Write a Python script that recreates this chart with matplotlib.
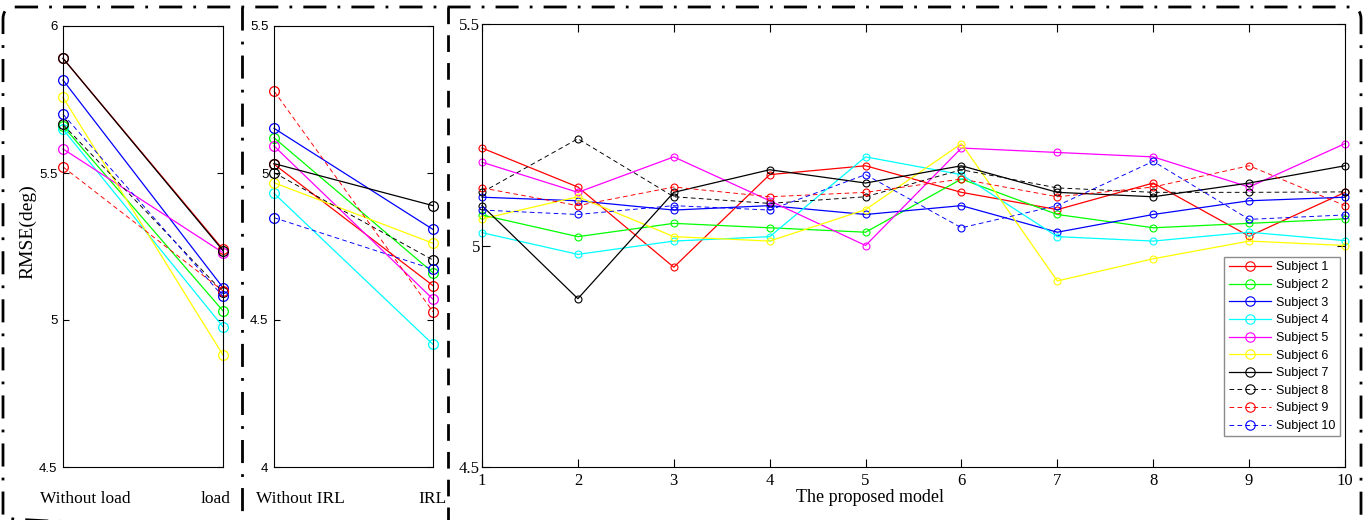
import matplotlib
matplotlib.use("Agg")
import matplotlib.pyplot as plt
from matplotlib.patches import FancyBboxPatch
from matplotlib.lines import Line2D
from matplotlib.transforms import Affine2D

W, H = 1369, 520

subjects = [f"Subject {i}" for i in range(1, 11)]
colors = ['#ff0000', '#00ff00', '#0000ff', '#00ffff', '#ff00ff', '#ffff00',
          '#000000', '#000000', '#ff0000', '#0000ff']
dashed = [False] * 7 + [True] * 3

# Panel 1: Without load vs load
load_labels = ["Without load", "load"]
without_load = [5.89, 5.66, 5.816, 5.649, 5.582, 5.757, 5.89, 5.665, 5.521, 5.70]
with_load = [5.24, 5.031, 5.11, 4.977, 5.229, 4.881, 5.236, 5.095, 5.099, 5.08]

# Panel 2: Without IRL vs IRL
irl_labels = ["Without IRL", "IRL"]
without_irl = [5.03, 5.12, 5.152, 4.931, 5.092, 4.967, 5.032, 5.001, 5.279, 4.848]
with_irl = [4.617, 4.661, 4.808, 4.417, 4.571, 4.761, 4.889, 4.704, 4.528, 4.673]

# Panel 3: proposed model, runs 1..10
runs = list(range(1, 11))
s1 = [5.22, 5.132, 4.951, 5.16, 5.18, 5.12, 5.081, 5.141, 5.021, 5.12]
s2 = [5.069, 5.02, 5.05, 5.04, 5.03, 5.15, 5.07, 5.04, 5.05, 5.06]
s3 = [5.109, 5.101, 5.08, 5.09, 5.07, 5.09, 5.03, 5.07, 5.101, 5.109]
s4 = [5.029, 4.98, 5.01, 5.02, 5.2, 5.16, 5.02, 5.01, 5.03, 5.011]
s5 = [5.188, 5.12, 5.2, 5.101, 5.0, 5.22, 5.21, 5.2, 5.132, 5.23]
s6 = [5.06, 5.11, 5.02, 5.01, 5.081, 5.23, 4.92, 4.97, 5.01, 5.0]
s7 = [5.09, 4.88, 5.12, 5.171, 5.141, 5.18, 5.12, 5.11, 5.141, 5.18]
s8 = [5.12, 5.241, 5.11, 5.095, 5.11, 5.171, 5.13, 5.12, 5.12, 5.121]
s9 = [5.13, 5.09, 5.132, 5.11, 5.12, 5.15, 5.11, 5.132, 5.18, 5.09]
s10 = [5.08, 5.07, 5.09, 5.08, 5.16, 5.04, 5.09, 5.19, 5.059, 5.069]
model_series = [s1, s2, s3, s4, s5, s6, s7, s8, s9, s10]

SERIF = "Liberation Serif"
SANS = "Liberation Sans"

fig = plt.figure(figsize=(W / 100, H / 100), dpi=100)


def add_axes_px(x0, y0, x1, y1):
    return fig.add_axes([x0 / W, 1 - y1 / H, (x1 - x0) / W, (y1 - y0) / H])


def style_axes(ax, family, size, pad):
    for sp in ax.spines.values():
        sp.set_linewidth(0.8)
    ax.tick_params(direction='in', length=4, width=0.8, top=True, right=True,
                   pad=pad, labelsize=size)
    for lab in ax.get_xticklabels() + ax.get_yticklabels():
        lab.set_fontfamily(family)


def dash_kw(i, lw):
    if dashed[i]:
        return dict(linestyle=(0, (5, 3.5)), lw=lw * 0.75)
    return dict(linestyle='-', lw=lw)


def pair_panel(ax, a, b, ymin, ymax, ticks):
    for i in range(10):
        ax.plot([1, 2], [a[i], b[i]], color=colors[i], marker='o', ms=7,
                mfc='none', mew=0.9, clip_on=False, **dash_kw(i, 0.9))
    ax.set_xlim(1, 2)
    ax.set_ylim(ymin, ymax)
    ax.set_yticks(ticks)
    ax.set_yticklabels([f"{t:g}" for t in ticks])
    ax.set_xticks([])
    style_axes(ax, SANS, 9.5, 4)


ax1 = add_axes_px(63, 26, 223, 467)
pair_panel(ax1, without_load, with_load, 4.5, 6, [4.5, 5, 5.5, 6])
ax2 = add_axes_px(274, 26, 433, 467)
pair_panel(ax2, without_irl, with_irl, 4, 5.5, [4, 4.5, 5, 5.5])

fig.text(85 / W, 1 - 499 / H, load_labels[0], ha='center', va='center',
         family=SERIF, fontsize=12.5)
fig.text(216 / W, 1 - 499 / H, load_labels[1], ha='center', va='center',
         family=SERIF, fontsize=12.5)
fig.text(300 / W, 1 - 499 / H, irl_labels[0], ha='center', va='center',
         family=SERIF, fontsize=12.5)
fig.text(432 / W, 1 - 499 / H, irl_labels[1], ha='center', va='center',
         family=SERIF, fontsize=12.5)
fig.text(28 / W, 1 - 232 / H, "RMSE(deg)", rotation=90, ha='center',
         va='center', family=SERIF, fontsize=14)

ax3 = add_axes_px(482, 24, 1345, 467)
handles = []
for i in range(10):
    h, = ax3.plot(runs, model_series[i], color=colors[i], marker='o', ms=5,
                  mfc='none', mew=0.8, clip_on=False, label=subjects[i],
                  **dash_kw(i, 0.9))
    handles.append(h)
ax3.set_xlim(1, 10)
ax3.set_ylim(4.5, 5.5)
ax3.set_xticks(runs)
ax3.set_yticks([4.5, 5, 5.5])
ax3.set_yticklabels(["4.5", "5", "5.5"])
style_axes(ax3, SERIF, 12, 1.5)
ax3.tick_params(axis='x', pad=4, length=6)
ax3.tick_params(axis='y', length=6)
fig.text(870 / W, 1 - 497 / H, "The proposed model", ha='center', va='center',
         family=SERIF, fontsize=13)

leg = ax3.legend(handles=handles, loc='upper right',
                 bbox_to_anchor=(1340 / W, 1 - 257 / H),
                 bbox_transform=fig.transFigure, prop={'family': SANS, 'size': 9},
                 frameon=True, fancybox=False, edgecolor='#707070',
                 handlelength=3.4, handletextpad=0.4, labelspacing=0.45,
                 borderpad=0.35, borderaxespad=0, markerscale=1.35, numpoints=1)
leg.get_frame().set_linewidth(1.0)

# Outer dash-dot frame and dividers (pixel coordinates, origin top-left)
pxT = Affine2D().scale(1 / W, -1 / H).translate(0, 1) + fig.transFigure
dashdot = (0, (8.3, 4, 1, 4))
frame = FancyBboxPatch((3, 7), 1358, 522, boxstyle="round,pad=0,rounding_size=12",
                       transform=pxT, fill=False, lw=2, ec='k', linestyle=dashdot)
fig.add_artist(frame)
fig.add_artist(Line2D([242, 242], [7, 530], transform=pxT, color='k', lw=2,
                      linestyle=dashdot))
fig.add_artist(Line2D([448, 448], [7, 530], transform=pxT, color='k', lw=2,
                      linestyle=(0, (6, 4))))

fig.savefig("out.png", dpi=100)
